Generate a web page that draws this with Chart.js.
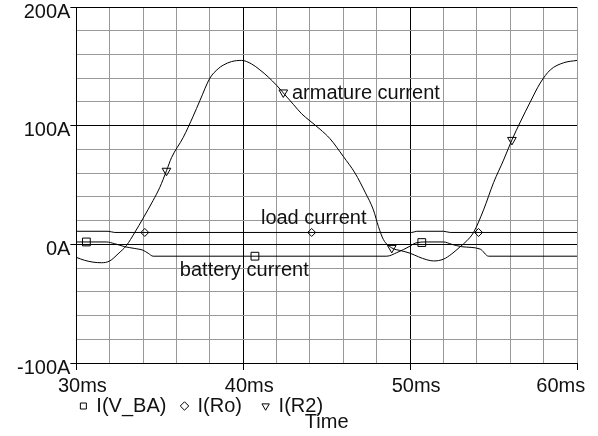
<!DOCTYPE html>
<html>
<head>
<meta charset="utf-8">
<script src="https://cdn.jsdelivr.net/npm/chart.js"></script>
<style>
  body { margin: 0; background: #fff; }
  canvas { display: block; }
</style>
</head>
<body>
<canvas id="chart" width="598" height="436"></canvas>
<script>
// armature current I(R2)
const armT = [30, 30.5, 31, 31.5, 32, 32.5, 33, 33.5, 34, 34.6, 35, 35.4, 35.7, 36.4, 37, 37.4, 38, 38.5, 38.8, 39.3, 39.9,
  40.5, 41, 41.5, 42, 42.5, 43, 43.5, 44, 44.6, 45.2, 46, 46.7, 47.3, 47.8, 48.1, 48.4, 48.9, 49.5, 50, 50.5, 51, 51.4,
  52, 52.5, 53, 53.4, 53.8, 54.4, 55, 55.6, 56.1, 56.6, 57.2, 57.8, 58.4, 59.2, 60];
const armA = [-11, -13.5, -15, -15.5, -14, -8, -1, 10, 22, 37, 48, 62, 73, 90, 108, 121, 140, 148, 151, 154, 155,
  152, 147, 141, 134, 126, 118, 110, 104, 97, 89, 74, 60, 44, 29, 15, 4, -3, -5.5, -7.5, -10.5, -13, -14,
  -12.5, -8, -2, 3, 10, 29, 52, 71, 88, 103, 120, 136, 147, 153, 155];

// load current I(Ro)
const loadT = [30, 31.9, 32.3, 50.1, 50.4, 52, 52.4, 60];
const loadA = [11, 11, 10, 10, 11, 11, 10, 10];

// battery current I(V_BA)
const battT = [30, 31.8, 32.3, 32.9, 33.5, 34, 34.3, 34.6, 48.6, 49.2, 50, 50.3, 51, 52, 52.5, 53.1, 54.2, 54.7, 60];
const battA = [2, 2, 0.5, -2, -3.5, -5, -7.5, -10, -10, -7, -1.5, 1, 2, 2, 0, -2, -4, -10, -10];

// symbols on the traces
const battMarkT = [30.6, 40.7, 50.7];
const battMarkA = [2, -10, 1.5];
const loadMarkT = [34.1, 44.1, 54.1];
const loadMarkA = [10, 10, 10];
const armMarkT = [35.4, 42.4, 48.9, 56.1];
const armMarkA = [62, 128, -3, 88];

// text written inside the plot
const notes = ['armature current', 'load current', 'battery current'];
const noteT = [42.92, 41.06, 36.2];
const noteA = [127.5, 22.2, -21.8];

const legendGap = ['  ', '   ', ''];

const FONT = '"Liberation Sans", Arial, Helvetica, sans-serif';
Chart.defaults.font.family = FONT;
Chart.defaults.font.size = 20;
Chart.defaults.color = '#111';

const pts = (xs, ys) => xs.map((x, i) => ({x: x, y: ys[i]}));

function trace(label, xs, ys) {
  return {
    label: label,
    data: pts(xs, ys),
    borderColor: '#000',
    borderWidth: 1,
    pointRadius: 0,
    cubicInterpolationMode: 'monotone',
    fill: false
  };
}

function marks(label, xs, ys, style, radius, rot) {
  return {
    label: label,
    data: pts(xs, ys),
    showLine: false,
    pointStyle: style,
    pointRadius: radius,
    pointRotation: rot,
    pointBorderColor: '#000',
    pointBackgroundColor: 'rgba(0,0,0,0)',
    pointBorderWidth: 1,
    borderColor: '#000',
    backgroundColor: 'rgba(0,0,0,0)'
  };
}

const notePlugin = {
  id: 'notes',
  afterDatasetsDraw(chart) {
    const {ctx, scales: {x, y}} = chart;
    ctx.save();
    ctx.font = '20px ' + FONT;
    ctx.fillStyle = '#111';
    ctx.textAlign = 'left';
    ctx.textBaseline = 'middle';
    notes.forEach((n, i) => {
      ctx.fillText(n, x.getPixelForValue(noteT[i]), y.getPixelForValue(noteA[i]));
    });
    ctx.restore();
  }
};

new Chart(document.getElementById('chart'), {
  type: 'line',
  data: {
    datasets: [
      trace('battery', battT, battA),
      trace('load', loadT, loadA),
      trace('armature', armT, armA),
      marks('I(V_BA)', battMarkT, battMarkA, 'rect', 5.5, 0),
      marks('I(Ro)', loadMarkT, loadMarkA, 'rectRot', 4, 0),
      marks('I(R2)', armMarkT, armMarkA, 'triangle', 5, 180)
    ]
  },
  options: {
    responsive: false,
    animation: false,
    layout: { padding: { left: 17, right: 21, top: 7, bottom: 0 } },
    scales: {
      x: {
        type: 'linear',
        min: 30,
        max: 60,
        // fixed axis height so the legend sits right under the tick labels
        afterFit(scale) { scale.paddingLeft = 0; scale.paddingRight = 0; scale.height = 29; },
        border: { color: '#000', width: 1 },
        grid: {
          color: c => (c.tick.value === 40 || c.tick.value === 50) ? '#000' : '#999',
          tickColor: c => c.tick.value % 10 === 0 ? '#000' : 'rgba(0,0,0,0)',
          tickLength: 7,
          lineWidth: 1
        },
        ticks: {
          stepSize: 2,
          autoSkip: false,
          maxRotation: 0,
          minRotation: 0,
          padding: 11,
          labelOffset: 6,
          font: { size: 20, lineHeight: '11px' },
          color: '#111',
          // last label pushed left so it stays inside the canvas
          callback: v => v % 10 !== 0 ? '' : (v === 60 ? v + 'ms        ' : v + 'ms')
        }
      },
      y: {
        min: -100,
        max: 200,
        afterFit(scale) { scale.paddingTop = 0; scale.paddingBottom = 0; },
        border: { color: '#000', width: 1 },
        grid: {
          color: c => c.tick.value % 100 === 0 ? '#000' : '#999',
          tickColor: c => c.tick.value % 100 === 0 ? '#000' : 'rgba(0,0,0,0)',
          tickLength: 6,
          lineWidth: 1
        },
        ticks: {
          stepSize: 20,
          autoSkip: false,
          padding: 0,
          labelOffset: 5,
          font: { size: 20 },
          color: '#111',
          callback: v => v % 100 === 0 ? v + 'A' : ''
        }
      }
    },
    plugins: {
      tooltip: { enabled: false },
      legend: {
        position: 'bottom',
        align: 'start',
        fullSize: false,
        labels: {
          usePointStyle: true,
          boxWidth: 6,
          boxHeight: 6,
          padding: 4,
          color: '#111',
          font: { size: 20 },
          generateLabels(chart) {
            const items = Chart.defaults.plugins.legend.labels.generateLabels(chart);
            items.forEach(it => {
              if (it.datasetIndex >= 3) it.text = it.text + legendGap[it.datasetIndex - 3];
            });
            return items;
          },
          filter: item => item.datasetIndex >= 3
        }
      },
      title: {
        display: true,
        text: 'Time',
        position: 'bottom',
        fullSize: false,
        color: '#111',
        font: { size: 20, weight: 'normal', lineHeight: 1 },
        padding: { top: -14, bottom: 4 }
      }
    }
  },
  plugins: [notePlugin]
});
</script>
</body>
</html>
